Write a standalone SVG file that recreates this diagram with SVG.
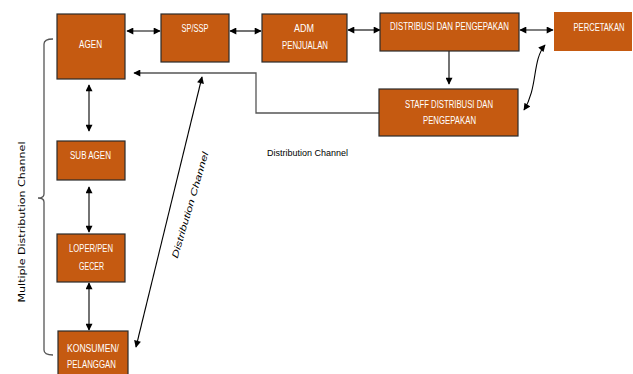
<svg xmlns="http://www.w3.org/2000/svg" width="633" height="374" viewBox="0 0 633 374">
<style>
.box{fill:#C55A11;stroke:#2b2b2b;stroke-width:1.2}
.t{fill:#fff;font-family:"Liberation Sans Narrow","Liberation Sans",Arial,sans-serif;font-size:10px;text-anchor:middle}
.c{fill:none;stroke:#000;stroke-width:1.1}
.g{fill:none;stroke:#555;stroke-width:1.3}
.lbl{fill:#000;font-family:"Liberation Sans Narrow","Liberation Sans",Arial,sans-serif;font-size:9px}
</style>
<defs>
<marker id="ah" viewBox="0 0 10 10" refX="9" refY="5" markerWidth="8" markerHeight="7" markerUnits="userSpaceOnUse" orient="auto-start-reverse">
<path d="M0,0 L10,5 L0,10 z" fill="#000"/>
</marker>
</defs>
<rect width="633" height="374" fill="#fff"/>
<g id="connectors">
<line class="c" x1="127" y1="31" x2="160" y2="31" marker-start="url(#ah)" marker-end="url(#ah)"/>
<line class="c" x1="230" y1="31" x2="261" y2="31" marker-start="url(#ah)" marker-end="url(#ah)"/>
<line class="c" x1="348" y1="30" x2="380" y2="30" marker-start="url(#ah)" marker-end="url(#ah)"/>
<line class="c" x1="520" y1="30" x2="553" y2="30" marker-start="url(#ah)" marker-end="url(#ah)"/>
<line class="c" x1="449" y1="51" x2="449" y2="84" marker-end="url(#ah)"/>
<path class="c" d="M545,45 C532,60 538,88 524,110" marker-start="url(#ah)" marker-end="url(#ah)"/>
<polyline class="g" points="379,113 256,113 256,73 134,73" marker-end="url(#ah)"/>
<line class="c" x1="89" y1="85" x2="89" y2="131" marker-start="url(#ah)" marker-end="url(#ah)"/>
<line class="c" x1="89" y1="187" x2="89" y2="232" marker-start="url(#ah)" marker-end="url(#ah)"/>
<line class="c" x1="89" y1="283" x2="89" y2="330" marker-start="url(#ah)" marker-end="url(#ah)"/>
<line class="c" x1="202" y1="77" x2="136" y2="347" marker-start="url(#ah)" marker-end="url(#ah)"/>
<path class="g" d="M53,39 C47,39 44,40 44,44 L44,194 C44,197 42,198 38,198 C42,198 44,199 44,202 L44,350 C44,354 47,355 53,355"/>
</g>
<g id="agen"><rect class="box" x="57" y="14" width="68" height="65"/><text class="t" x="90.5" y="48" textLength="23" lengthAdjust="spacingAndGlyphs">AGEN</text></g>
<g id="spssp"><rect class="box" x="161" y="14" width="68" height="48"/><text class="t" x="195" y="32" textLength="27" lengthAdjust="spacingAndGlyphs">SP/SSP</text></g>
<g id="adm"><rect class="box" x="262" y="14" width="85" height="48"/><text class="t" x="304" y="32" textLength="20" lengthAdjust="spacingAndGlyphs">ADM</text><text class="t" x="305" y="49" textLength="46" lengthAdjust="spacingAndGlyphs">PENJUALAN</text></g>
<g id="distribusi"><rect class="box" x="380" y="13" width="139" height="38"/><text class="t" x="449.5" y="30" textLength="119" lengthAdjust="spacingAndGlyphs">DISTRIBUSI DAN PENGEPAKAN</text></g>
<g id="percetakan"><rect x="554" y="12" width="78" height="39" fill="#C55A11"/><text class="t" x="599" y="31" font-size="9" textLength="51" lengthAdjust="spacingAndGlyphs">PERCETAKAN</text></g>
<g id="staff"><rect class="box" x="379" y="89" width="139" height="47"/><text class="t" x="449" y="108" textLength="88" lengthAdjust="spacingAndGlyphs">STAFF DISTRIBUSI DAN</text><text class="t" x="449.5" y="124" textLength="53" lengthAdjust="spacingAndGlyphs">PENGEPAKAN</text></g>
<g id="subagen"><rect class="box" x="57" y="141" width="68" height="39"/><text class="t" x="90.5" y="159" textLength="41" lengthAdjust="spacingAndGlyphs">SUB AGEN</text></g>
<g id="loper"><rect class="box" x="57" y="234" width="68" height="48"/><text class="t" x="91" y="252" textLength="44" lengthAdjust="spacingAndGlyphs">LOPER/PEN</text><text class="t" x="91.5" y="270" textLength="25" lengthAdjust="spacingAndGlyphs">GECER</text></g>
<g id="konsumen"><rect class="box" x="58" y="331" width="70" height="45"/><text class="t" x="93" y="352" textLength="52" lengthAdjust="spacingAndGlyphs">KONSUMEN/</text><text class="t" x="91.5" y="368" textLength="49" lengthAdjust="spacingAndGlyphs">PELANGGAN</text></g>
<g id="labels">
<text class="lbl" x="267" y="156" textLength="81" lengthAdjust="spacingAndGlyphs">Distribution Channel</text>
<text class="lbl" transform="translate(193,206) rotate(-73.7)" text-anchor="middle" font-style="italic" font-size="10" textLength="110" lengthAdjust="spacingAndGlyphs">Distribution Channel</text>
<text transform="translate(25,222) rotate(-90)" text-anchor="middle" font-family="'DejaVu Sans',Verdana,sans-serif" font-size="9.5" fill="#000" textLength="161" lengthAdjust="spacingAndGlyphs">Multiple Distribution Channel</text>
</g>
</svg>
